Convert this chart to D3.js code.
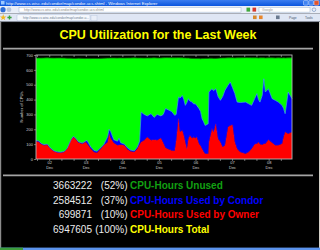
<!DOCTYPE html>
<html>
<head>
<meta charset="utf-8">
<script src="https://cdn.jsdelivr.net/npm/d3@7"></script>
<style>
  html, body { margin: 0; padding: 0; background: #000; }
  svg { display: block; font-family: "Liberation Sans", Arial, sans-serif; }
</style>
</head>
<body>
<div id="chart"></div>
<script>
// hours since the start of the week (Dec 1, 15:00)
const hours = [0,2,3,5,7.5,9.5,12,14,16,18.5,
  20.5,23,24.5,26,28,30.5,32.5,33.5,36,38,
  40,42.5,44.5,47,48,49,51,53.5,54.5,55.5,
  58,60,62,64.5,66.5,68,69,71,73,75.5,
  77.5,79.5,82,83.5,85,87,89,91,92,93.5,
  94.5,96,97,98,99,100,101,102.5,103.5,104.5,
  105.5,107,108,109,110,111,113,113.5,115.5,116.5,
  118,119.5,121,122.5,124,126,127.5,129,130.5,132,
  134,137.5,139.5,141.5,143.5,145,146,147,148.5,149.5,
  150.5,152.5,155,157,159,161.5,162.5,163.5,165.5,168];

const ownerCpus = [119,115,103,92,95,69,50,44,42,47,
  69,126,148,135,110,103,114,105,69,47,
  42,69,92,114,170,141,110,92,94,96,
  92,65,52,47,69,100,114,126,148,126,
  130,126,141,110,75,65,58,55,126,271,
  182,193,160,114,69,137,159,140,148,140,
  148,103,90,69,50,36,36,114,204,180,
  237,137,114,81,92,215,226,230,114,69,
  47,36,47,69,100,103,114,100,96,103,
  103,130,110,92,92,103,150,182,170,182];

const condorCpus = [6,6,5,5,5,4,4,4,4,4,
  4,4,4,5,5,5,6,20,11,11,
  10,7,6,36,30,44,20,28,46,14,
  8,10,8,8,11,20,202,174,142,179,
  150,174,149,190,265,265,262,239,174,146,
  228,235,240,247,311,269,231,243,222,232,
  212,236,230,202,200,190,201,337,269,280,
  236,283,281,339,370,281,292,250,326,314,
  333,347,325,292,306,337,286,283,334,437,
  348,343,296,303,291,258,190,123,281,224];

const totalCpus = [680,680,679,680,681,680,679,680,680,679,
  678,678,677,677,678,677,676,677,676,677,
  676,677,678,679,679,680,680,679,680,680,
  679,680,680,681,680,680,680,679,680,680,
  681,680,680,681,682,682,681,681,681,682,
  681,681,680,680,679,679,678,677,677,676,
  676,676,675,676,676,677,677,678,678,677,
  677,678,679,680,680,681,681,681,680,681,
  681,682,682,681,681,681,680,681,681,681,
  680,681,681,680,681,680,681,680,681,681];

const yTicks = [0,100,200,300,400,500,600,700];

const summaryHours = ["3663222","2584512","699871","6947605"];
const summaryPct = ["(52%)","(37%)","(10%)","(100%)"];
const summaryLabels = ["CPU-Hours Unused","CPU-Hours Used by Condor","CPU-Hours Used by Owner","CPU-Hours Total"];
const summaryColors = ["#12a012","#0000ff","#ff0000","#ffff00"];

const start = new Date(2008, 11, 1, 15);
const end = d3.timeHour.offset(start, 168);

const width = 320;
const height = 250;

const svg = d3.select("#chart")
  .append("svg")
  .attr("width", width)
  .attr("height", height);

// ---- browser window chrome ----
const defs = svg.append("defs");
const tg = defs.append("linearGradient").attr("id", "titlebar").attr("x1", 0).attr("y1", 0).attr("x2", 0).attr("y2", 1);
tg.append("stop").attr("offset", "0%").attr("stop-color", "#3b7df0");
tg.append("stop").attr("offset", "100%").attr("stop-color", "#0a55de");

const chrome = svg.append("g").attr("class", "chrome");
chrome.append("rect").attr("x", 0).attr("y", 0).attr("width", width).attr("height", 6).attr("fill", "url(#titlebar)");
chrome.append("rect").attr("x", 1).attr("y", 1).attr("width", 3.5).attr("height", 3.5).attr("fill", "#9cc8ff");
chrome.append("text")
  .attr("x", 6).attr("y", 4.6)
  .attr("fill", "#fff").attr("font-size", 4.2)
  .text("http://www.cs.wisc.edu/condor/map/condor-ucs.shtml - Windows Internet Explorer");
chrome.append("rect").attr("x", 303.5).attr("y", 0.6).attr("width", 4.6).attr("height", 4.6).attr("rx", 0.8)
  .attr("fill", "#3f82f2").attr("stroke", "#fff").attr("stroke-width", 0.4);
chrome.append("rect").attr("x", 308.8).attr("y", 0.6).attr("width", 4.6).attr("height", 4.6).attr("rx", 0.8)
  .attr("fill", "#3f82f2").attr("stroke", "#fff").attr("stroke-width", 0.4);
chrome.append("rect").attr("x", 314.1).attr("y", 0.6).attr("width", 4.8).attr("height", 4.6).attr("rx", 0.8)
  .attr("fill", "#e2542d").attr("stroke", "#fff").attr("stroke-width", 0.4);

// address row
chrome.append("rect").attr("x", 0).attr("y", 6).attr("width", width).attr("height", 7.5).attr("fill", "#e9eef8");
chrome.append("circle").attr("cx", 3).attr("cy", 9.7).attr("r", 2.6).attr("fill", "#2f6ed8");
chrome.append("circle").attr("cx", 9).attr("cy", 9.7).attr("r", 2.4).attr("fill", "#b9c5da");
chrome.append("rect").attr("x", 19).attr("y", 7.3).attr("width", 222).attr("height", 4.8)
  .attr("fill", "#fff").attr("stroke", "#8aa3c4").attr("stroke-width", 0.4);
chrome.append("text")
  .attr("x", 24).attr("y", 10.9)
  .attr("fill", "#8a8a8a").attr("font-size", 3.4)
  .text("http://www.cs.wisc.edu/condor/map/condor-ucs.shtml");
chrome.append("rect").attr("x", 246.5).attr("y", 7.6).attr("width", 3.6).attr("height", 4).attr("fill", "#3fa83a");
chrome.append("rect").attr("x", 252.5).attr("y", 7.6).attr("width", 3.6).attr("height", 4).attr("fill", "#d6382c");
chrome.append("rect").attr("x", 259).attr("y", 7.3).attr("width", 51).attr("height", 4.8)
  .attr("fill", "#fff").attr("stroke", "#8aa3c4").attr("stroke-width", 0.4);
chrome.append("text")
  .attr("x", 262).attr("y", 10.9)
  .attr("fill", "#9a9a9a").attr("font-size", 3.4)
  .text("Google");
chrome.append("circle").attr("cx", 314).attr("cy", 9.7).attr("r", 1.8)
  .attr("fill", "none").attr("stroke", "#5577aa").attr("stroke-width", 0.5);

// tabs row
chrome.append("rect").attr("x", 0).attr("y", 13.5).attr("width", width).attr("height", 8).attr("fill", "#dfe6f4");
chrome.append("path").attr("d", d3.symbol(d3.symbolStar, 14)()).attr("transform", "translate(3.2,17.5)").attr("fill", "#f0b820");
chrome.append("path").attr("d", d3.symbol(d3.symbolCross, 10)()).attr("transform", "translate(9.5,17.5)").attr("fill", "#3aa040");
chrome.append("rect").attr("x", 17).attr("y", 14.6).attr("width", 73).attr("height", 6.2).attr("rx", 1)
  .attr("fill", "#f5f8fd").attr("stroke", "#9fb3d3").attr("stroke-width", 0.4);
chrome.append("text")
  .attr("x", 23).attr("y", 18.9)
  .attr("fill", "#6a7a90").attr("font-size", 3.2)
  .text("http://www.cs.wisc.edu/condor/map/condor-u...");
chrome.append("rect").attr("x", 91).attr("y", 15.2).attr("width", 6).attr("height", 5.6)
  .attr("fill", "#e9eef8").attr("stroke", "#b5c4dc").attr("stroke-width", 0.4);
const rightIcons = [[253, "#d7892c"], [259, "#e8862a"], [276, "#6a7a90"]];
rightIcons.forEach(([ix, c]) => {
  chrome.append("rect").attr("x", ix).attr("y", 15.5).attr("width", 3.6).attr("height", 3.6).attr("fill", c);
});
chrome.append("text").attr("x", 289).attr("y", 18.9).attr("fill", "#4a5a70").attr("font-size", 3.3).text("Page");
chrome.append("text").attr("x", 305).attr("y", 18.9).attr("fill", "#4a5a70").attr("font-size", 3.3).text("Tools");
chrome.append("line").attr("x1", 0).attr("x2", width).attr("y1", 21.6).attr("y2", 21.6)
  .attr("stroke", "#9aa4b4").attr("stroke-width", 0.6);

// page area
svg.append("rect").attr("x", 0).attr("y", 22).attr("width", 1.2).attr("height", 226).attr("fill", "#8c8c8c");
svg.append("rect").attr("x", 319).attr("y", 22).attr("width", 1).attr("height", 226).attr("fill", "#d4d0c8");
svg.append("rect").attr("x", 0).attr("y", 247.6).attr("width", width).attr("height", 2.4).attr("fill", "#5b93ec");
svg.append("rect").attr("x", 0).attr("y", 247.6).attr("width", 23).attr("height", 2.4).attr("fill", "#3c9c3c");

// ---- page title and rules ----
svg.append("text")
  .attr("x", 158).attr("y", 38.6)
  .attr("text-anchor", "middle")
  .attr("fill", "#ffff00")
  .attr("font-size", 12.5)
  .attr("font-weight", "bold")
  .text("CPU Utilization for the Last Week");

[48.6, 175.4].forEach((ry) => {
  svg.append("line")
    .attr("x1", 3).attr("x2", 313).attr("y1", ry).attr("y2", ry)
    .attr("stroke", "#a4a4a4").attr("stroke-width", 1.6);
});

// ---- chart ----
const x = d3.scaleTime().domain([start, end]).range([36, 292]);
const y = d3.scaleLinear().domain([0, 700]).range([159, 55]);

const rows = hours.map((h, i) => ({
  date: d3.timeMinute.offset(start, Math.round(h * 60)),
  owner: ownerCpus[i],
  condor: condorCpus[i],
  unused: totalCpus[i] - ownerCpus[i] - condorCpus[i],
}));

const stack = d3.stack().keys(["owner", "condor", "unused"]);
const layers = stack(rows);
const colors = { owner: "#ff0000", condor: "#0000ff", unused: "#00ff00" };

const area = d3.area()
  .x((d) => x(d.data.date))
  .y0((d) => y(d[0]))
  .y1((d) => y(d[1]));

const plot = svg.append("g").attr("class", "plot");
plot.append("rect")
  .attr("x", 36).attr("y", 55).attr("width", 256).attr("height", 104)
  .attr("fill", "#000");

plot.selectAll("path.layer")
  .data(layers)
  .join("path")
  .attr("class", "layer")
  .attr("fill", (d) => colors[d.key])
  .attr("d", area);

// soft fringes where the layers meet
const edge = (k) => d3.line()
  .x((d) => x(d.data.date))
  .y((d) => y(d[1]))(layers[k]);
plot.append("path").attr("d", edge(1)).attr("fill", "none")
  .attr("stroke", "#3aa0ff").attr("stroke-width", 0.9).attr("opacity", 0.8);
plot.append("path").attr("d", edge(0)).attr("fill", "none")
  .attr("stroke", "#c01090").attr("stroke-width", 0.6).attr("opacity", 0.6);
plot.append("path").attr("d", edge(2)).attr("fill", "none")
  .attr("stroke", "#0a6a0a").attr("stroke-width", 0.8);

plot.append("rect")
  .attr("x", 36).attr("y", 55).attr("width", 256).attr("height", 104)
  .attr("fill", "none").attr("stroke", "#b4b4b4").attr("stroke-width", 0.9);

// minor ticks every 8 hours, top and bottom
const tickTimes = d3.timeHour.every(8).range(start, end);
const axisCol = "#b4b4b4";
plot.selectAll("line.ttop")
  .data(tickTimes)
  .join("line")
  .attr("class", "ttop")
  .attr("x1", (d) => x(d)).attr("x2", (d) => x(d))
  .attr("y1", 55).attr("y2", 57)
  .attr("stroke", axisCol).attr("stroke-width", 0.6);
plot.selectAll("line.tbot")
  .data(tickTimes)
  .join("line")
  .attr("class", "tbot")
  .attr("x1", (d) => x(d)).attr("x2", (d) => x(d))
  .attr("y1", 159).attr("y2", 161)
  .attr("stroke", axisCol).attr("stroke-width", 0.6);

// y axis labels
const yAxis = svg.append("g")
  .attr("transform", "translate(36,0)")
  .call(d3.axisLeft(y).tickValues(yTicks).tickSize(2).tickPadding(1).tickFormat(d3.format("d")));
yAxis.select(".domain").remove();
yAxis.selectAll("line").attr("stroke", axisCol).attr("stroke-width", 0.6);
yAxis.selectAll("text")
  .attr("fill", "#d0d0d0")
  .attr("font-size", 4)
  .attr("font-family", "Liberation Sans, Arial, sans-serif");

svg.append("text")
  .attr("transform", "translate(22.6,107) rotate(-90)")
  .attr("text-anchor", "middle")
  .attr("fill", "#d0d0d0")
  .attr("font-size", 4.1)
  .text("Number of CPUs");

// day labels
const days = d3.timeDay.range(start, end);
const dayLabels = svg.append("g").selectAll("g")
  .data(days)
  .join("g")
  .attr("transform", (d) => `translate(${x(d)},0)`);
dayLabels.append("text")
  .attr("y", 164.2)
  .attr("text-anchor", "middle")
  .attr("fill", "#d0d0d0")
  .attr("font-size", 4)
  .text((d) => d3.timeFormat("%d")(d));
dayLabels.append("text")
  .attr("y", 168.8)
  .attr("text-anchor", "middle")
  .attr("fill", "#d0d0d0")
  .attr("font-size", 4)
  .text((d) => d3.timeFormat("%b")(d));

// ---- summary table ----
const summary = svg.append("g").selectAll("g")
  .data(summaryLabels)
  .join("g")
  .attr("transform", (d, i) => `translate(0,${189 + i * 14.7})`);
summary.append("text")
  .attr("x", 92).attr("text-anchor", "end")
  .attr("fill", "#ececec").attr("font-size", 10)
  .text((d, i) => summaryHours[i]);
summary.append("text")
  .attr("x", 127.5).attr("text-anchor", "end")
  .attr("fill", "#ececec").attr("font-size", 10)
  .text((d, i) => summaryPct[i]);
summary.append("text")
  .attr("x", 130)
  .attr("fill", (d, i) => summaryColors[i])
  .attr("font-size", 10).attr("font-weight", "bold")
  .text((d) => d);
</script>
</body>
</html>
